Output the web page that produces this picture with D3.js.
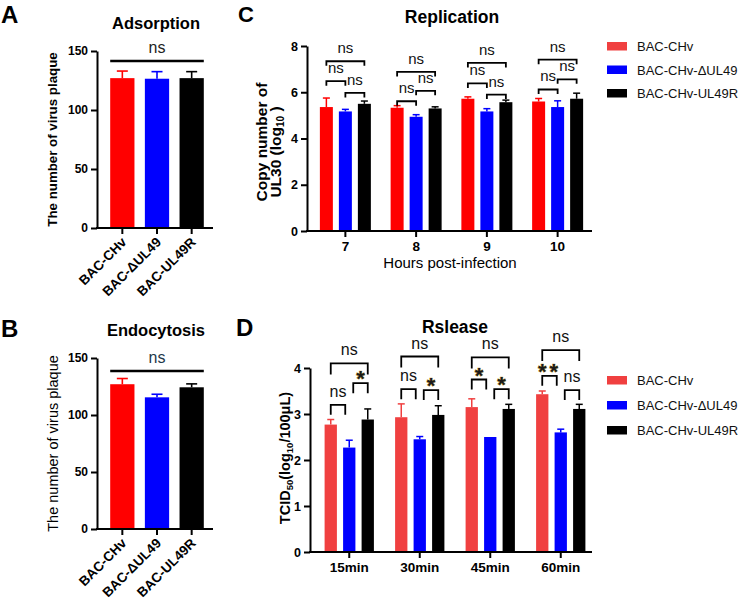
<!DOCTYPE html>
<html><head><meta charset="utf-8">
<script src="https://cdn.jsdelivr.net/npm/d3@7"></script>
<style>
body{margin:0;background:#fff}
svg{display:block}
text{font-family:Arial,"Liberation Sans",sans-serif}
</style>
</head><body>
<svg id="c" width="753" height="600"></svg>
<script>
// ---------------- DATA ----------------
const abCategories = ["BAC-CHv", "BAC-ΔUL49", "BAC-UL49R"];
const abTicks = [0, 50, 100, 150];
const adsorptionMean = [127, 126.5, 127];
const adsorptionSD = [6, 6, 5.5];
const endocytosisMean = [127, 115.5, 124.3];
const endocytosisSD = [5, 2.7, 3];

const seriesNames = ["BAC-CHv", "BAC-CHv-ΔUL49", "BAC-CHv-UL49R"];

const replicationHours = ["7", "8", "9", "10"];
const replicationTicks = [0, 2, 4, 6, 8];
const replicationCHv = [5.36, 5.33, 5.72, 5.60];
const replicationCHvSD = [0.39, 0.09, 0.08, 0.13];
const replicationDel = [5.17, 4.94, 5.17, 5.36];
const replicationDelSD = [0.09, 0.09, 0.12, 0.27];
const replicationRev = [5.50, 5.30, 5.57, 5.72];
const replicationRevSD = [0.12, 0.07, 0.09, 0.24];
// [group, seriesFrom, seriesTo, level (log10 units), label]
const replicationSig = [
  ["7", 0, 2, 7.34, "ns"], ["7", 0, 1, 6.48, "ns"], ["7", 1, 2, 5.97, "ns"],
  ["8", 0, 2, 6.88, "ns"], ["8", 0, 1, 5.61, "ns"], ["8", 1, 2, 6.06, "ns"],
  ["9", 0, 2, 7.27, "ns"], ["9", 0, 1, 6.38, "ns"], ["9", 1, 2, 5.90, "ns"],
  ["10", 0, 2, 7.41, "ns"], ["10", 0, 1, 6.12, "ns"], ["10", 1, 2, 6.56, "ns"]
];

const releaseTimes = ["15min", "30min", "45min", "60min"];
const releaseTicks = [0, 1, 2, 3, 4];
const releaseCHv = [2.77, 2.93, 3.15, 3.43];
const releaseCHvSD = [0.11, 0.29, 0.18, 0.07];
const releaseDel = [2.27, 2.45, 2.50, 2.60];
const releaseDelSD = [0.16, 0.06, 0, 0.07];
const releaseRev = [2.88, 2.98, 3.11, 3.11];
const releaseRevSD = [0.23, 0.20, 0.10, 0.10];
const releaseSig = [
  ["15min", 0, 2, 4.10, "ns"], ["15min", 0, 1, 3.20, "ns"], ["15min", 1, 2, 3.67, "*"],
  ["30min", 0, 2, 4.25, "ns"], ["30min", 0, 1, 3.54, "ns"], ["30min", 1, 2, 3.52, "*"],
  ["45min", 0, 2, 4.23, "ns"], ["45min", 0, 1, 3.75, "*"], ["45min", 1, 2, 3.54, "*"],
  ["60min", 0, 2, 4.39, "ns"], ["60min", 0, 1, 3.83, "**"], ["60min", 1, 2, 3.52, "ns"]
];

// ---------------- STYLE ----------------
const abColors = ["#ff0000", "#0000ff", "#000000"];
const repColors = ["#ff0000", "#0000ff", "#000000"];
const relColors = ["#f04040", "#0000ff", "#000000"];
const legendColors = ["#f04040", "#0000ff", "#000000"];

const svg = d3.select("#c");
svg.append("rect").attr("width", 753).attr("height", 600).attr("fill", "#fff");

function yAxis(g, y, x0, ticks, fs) {
  const ax = g.append("g").attr("transform", `translate(${x0},0)`)
    .call(d3.axisLeft(y).tickValues(ticks).tickFormat(d3.format("d")).tickSize(6).tickSizeOuter(0).tickPadding(3));
  ax.selectAll("path,line").attr("stroke", "#000").attr("stroke-width", 2);
  ax.selectAll("text").attr("font-size", fs).attr("font-weight", "bold").attr("fill", "#000");
  return ax;
}
function baseline(g, y, xStart, xEnd) {
  g.append("line").attr("x1", xStart - 1).attr("x2", xEnd).attr("y1", y(0)).attr("y2", y(0))
    .attr("stroke", "#000").attr("stroke-width", 2);
}
function label(g, txt, x, y, fs, weight, anchor, fill) {
  return g.append("text").attr("x", x).attr("y", y).attr("font-size", fs)
    .attr("font-weight", weight || "normal").attr("text-anchor", anchor || "middle")
    .attr("fill", fill || "#000").text(txt);
}

// ---------------- PANEL A / B ----------------
function abPanel(mean, sd, yRange, letter, letterY, title, titleY, nsY, nsColor, yLabelWeight, yLabelSize, yLabelX) {
  const g = svg.append("g");
  const x = d3.scaleBand().domain(abCategories).range([105, 209]).paddingInner(0.3).paddingOuter(0.15);
  const y = d3.scaleLinear().domain([0, 150]).range(yRange);
  const bw = x.bandwidth();
  g.selectAll("rect.bar").data(abCategories).enter().append("rect")
    .attr("x", d => x(d)).attr("y", (d, i) => y(mean[i])).attr("width", bw)
    .attr("height", (d, i) => y(0) - y(mean[i])).attr("fill", (d, i) => abColors[i]);
  abCategories.forEach((c, i) => {
    const cx = x(c) + bw / 2, top = y(mean[i] + sd[i]);
    g.append("line").attr("x1", cx).attr("x2", cx).attr("y1", y(mean[i])).attr("y2", top)
      .attr("stroke", abColors[i]).attr("stroke-width", 1.6);
    g.append("line").attr("x1", cx - 5.5).attr("x2", cx + 5.5).attr("y1", top).attr("y2", top)
      .attr("stroke", abColors[i]).attr("stroke-width", 1.6);
    g.append("line").attr("x1", cx).attr("x2", cx).attr("y1", y(0)).attr("y2", y(0) + 6)
      .attr("stroke", "#000").attr("stroke-width", 2);
    g.append("text").attr("font-size", 13.5).attr("font-weight", "bold").attr("text-anchor", "end")
      .attr("transform", `translate(${cx + 5},${y(0) + 15}) rotate(-45)`).text(c);
  });
  yAxis(g, y, 97, abTicks, 12);
  baseline(g, y, 97, 213);
  // significance bar
  g.append("line").attr("x1", x(abCategories[0])).attr("x2", x(abCategories[2]) + bw)
    .attr("y1", nsY).attr("y2", nsY).attr("stroke", "#000").attr("stroke-width", 2.6);
  label(g, "ns", (x(abCategories[0]) + x(abCategories[2]) + bw) / 2, nsY - 8, 16, "normal", "middle", nsColor);
  label(g, letter, 1, letterY, 24, "bold", "start");
  label(g, title, 156, titleY, 16.5, "bold");
  g.append("text").attr("font-size", yLabelSize).attr("font-weight", yLabelWeight).attr("text-anchor", "middle")
    .attr("transform", `translate(${yLabelX},${(yRange[0] + yRange[1]) / 2}) rotate(-90)`)
    .text("The number of virus plaque");
}
abPanel(adsorptionMean, adsorptionSD, [228, 51], "A", 23, "Adsorption", 29, 61, "#222", "bold", 13.3, 57);
abPanel(endocytosisMean, endocytosisSD, [529, 358], "B", 337, "Endocytosis", 336, 371, "#23374a", "normal", 14.5, 58);

// ---------------- GROUPED PANELS C / D ----------------
function groupedPanel(opts) {
  const g = svg.append("g");
  const x0 = d3.scaleBand().domain(opts.groups).range(opts.xRange);
  const x1 = d3.scaleBand().domain([0, 1, 2]).range([0, opts.inner]).paddingInner(opts.pad);
  const y = d3.scaleLinear().domain(opts.yDomain).range(opts.yRange);
  const bw = x1.bandwidth();
  const off = (x0.bandwidth() - opts.inner) / 2;
  const bx = (grp, s) => x0(grp) + off + x1(s);
  const cx = (grp, s) => bx(grp, s) + bw / 2;
  opts.series.forEach((vals, s) => {
    g.selectAll(null).data(opts.groups).enter().append("rect")
      .attr("x", d => bx(d, s)).attr("y", (d, i) => y(vals[i])).attr("width", bw)
      .attr("height", (d, i) => y(0) - y(vals[i])).attr("fill", opts.colors[s]);
    opts.groups.forEach((grp, i) => {
      const e = opts.errors[s][i];
      if (e <= 0) return;
      const c = cx(grp, s), top = y(vals[i] + e);
      g.append("line").attr("x1", c).attr("x2", c).attr("y1", y(vals[i])).attr("y2", top)
        .attr("stroke", opts.colors[s]).attr("stroke-width", 1.5);
      g.append("line").attr("x1", c - 3.5).attr("x2", c + 3.5).attr("y1", top).attr("y2", top)
        .attr("stroke", opts.colors[s]).attr("stroke-width", 1.5);
    });
  });
  yAxis(g, y, opts.yAxisX, opts.ticks, 12.5);
  baseline(g, y, opts.yAxisX, opts.xEnd);
  const xa = g.append("g").attr("transform", `translate(0,${y(0)})`)
    .call(d3.axisBottom(x0).tickSize(6).tickSizeOuter(0).tickPadding(4));
  xa.select(".domain").remove();
  xa.selectAll("line").attr("stroke", "#000").attr("stroke-width", 2);
  xa.selectAll("text").attr("font-size", 13.5).attr("font-weight", "bold").attr("fill", "#000");
  // significance brackets
  opts.sig.forEach(([grp, a, b, lvl, lab]) => {
    const ly = y(lvl);
    const adj = b - a === 1 && opts.inset ? opts.inset : 0;
    const xa1 = cx(grp, a) + (a === 1 ? adj : 0);
    const xb1 = cx(grp, b) - (b === 1 ? adj : 0);
    const tk = (b - a === 2) ? opts.tickTop : opts.tick;
    g.append("path").attr("d", `M${xa1},${ly + tk}V${ly}H${xb1}V${ly + tk}`)
      .attr("fill", "none").attr("stroke", "#000").attr("stroke-width", 1.8);
    const mid = (xa1 + xb1) / 2;
    if (lab === "ns") {
      label(g, lab, mid, ly - 8, opts.nsSize, "normal", "middle", "#111");
    } else {
      g.append("text").attr("x", mid).attr("y", ly + 3).attr("font-size", 22).attr("font-weight", "bold")
        .attr("text-anchor", "middle").attr("fill", "#1a1a1a").attr("stroke", "#c9a22e")
        .attr("stroke-width", 0.7).attr("paint-order", "stroke").attr("letter-spacing", lab.length > 1 ? 3 : 0)
        .text(lab);
    }
  });
  // legend
  seriesNames.forEach((n, i) => {
    const ly = opts.legendY + i * opts.legendStep;
    g.append("rect").attr("x", 607).attr("y", ly - 4).attr("width", 20).attr("height", 8.5)
      .attr("fill", legendColors[i]);
    label(g, n, 637, ly + 5, 13, "normal", "start", "#111");
  });
  return { g, y, x0 };
}

const C = groupedPanel({
  groups: replicationHours, series: [replicationCHv, replicationDel, replicationRev],
  errors: [replicationCHvSD, replicationDelSD, replicationRevSD],
  colors: repColors, xRange: [310, 593], inner: 51, pad: 0.316,
  yDomain: [0, 8], yRange: [231, 46], yAxisX: 307, xEnd: 592, ticks: replicationTicks,
  sig: replicationSig, tick: 4.5, tickTop: 4.5, inset: 0, nsSize: 15,
  legendY: 46, legendStep: 23.5
});
label(C.g, "C", 238, 22, 22, "bold", "start");
label(C.g, "Replication", 452, 23, 17.5, "bold");
label(C.g, "Hours post-infection", 450, 268, 15, "normal");
C.g.append("text").attr("font-size", 15.5).attr("font-weight", "bold").attr("text-anchor", "middle")
  .attr("transform", "translate(267,142) rotate(-90)").text("Copy number of");
const cl2 = C.g.append("text").attr("font-size", 15.5).attr("font-weight", "bold").attr("text-anchor", "middle")
  .attr("transform", "translate(281,152) rotate(-90)");
cl2.append("tspan").text("UL30 (log");
cl2.append("tspan").attr("font-size", 10).attr("dy", 3).text("10");
cl2.append("tspan").attr("dy", -3).text(" )");

const D = groupedPanel({
  groups: releaseTimes, series: [releaseCHv, releaseDel, releaseRev],
  errors: [releaseCHvSD, releaseDelSD, releaseRevSD],
  colors: relColors, xRange: [314, 596], inner: 49.3, pad: 0.335,
  yDomain: [0, 4], yRange: [552, 368], yAxisX: 310, xEnd: 592, ticks: releaseTicks,
  sig: releaseSig, tick: 10, tickTop: 11, inset: 4, nsSize: 16,
  legendY: 380, legendStep: 25
});
label(D.g, "D", 236, 336, 24, "bold", "start");
label(D.g, "Rslease", 455, 333, 17.5, "bold");
const dl = D.g.append("text").attr("font-size", 14.5).attr("font-weight", "bold").attr("text-anchor", "middle")
  .attr("transform", "translate(290,458) rotate(-90)");
dl.append("tspan").text("TCID");
dl.append("tspan").attr("font-size", 9.5).attr("dy", 3).text("50");
dl.append("tspan").attr("dy", -3).text("(log");
dl.append("tspan").attr("font-size", 9.5).attr("dy", 3).text("10");
dl.append("tspan").attr("dy", -3).text("/100μL)");
</script>
</body></html>
